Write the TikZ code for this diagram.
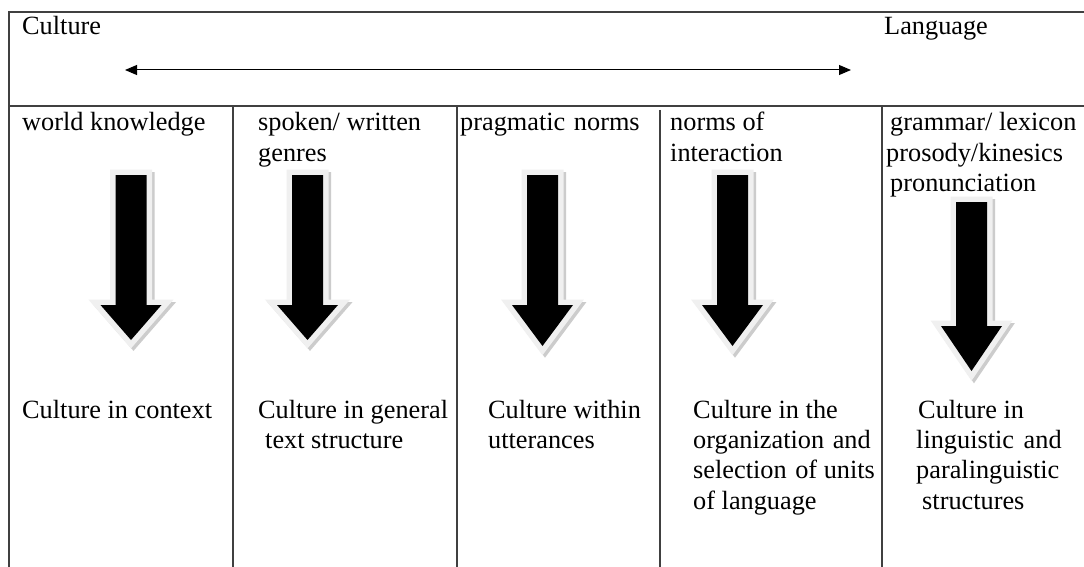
\documentclass[tikz,border=0pt]{standalone}
\usepackage{fontspec}
\setmainfont{Liberation Serif}
\usetikzlibrary{arrows.meta}
\newcommand\arrowpath[4]{(#1-15.5,#2) -- (#1+15.5,#2) -- (#1+15.5,#3) -- (#1+30.5,#3) -- (#1,#4) -- (#1-30.5,#3) -- (#1-15.5,#3) -- cycle}
\newcommand\bigdownarrow[4]{%
  \filldraw[draw=gray!40, fill=gray!40, line width=11pt, line join=miter, shift={(2.5,2.5)}] \arrowpath{#1}{#2}{#3}{#4};
  \filldraw[draw=gray!12, fill=gray!12, line width=11pt, line join=miter] \arrowpath{#1}{#2}{#3}{#4};
  \fill[black] \arrowpath{#1}{#2}{#3}{#4};
}
\begin{document}
\begin{tikzpicture}[x=1pt,y=-1pt,
  frame/.style={draw=black!75, line width=1.4pt},
  lbl/.style={anchor=base west, inner sep=0pt, font=\fontsize{26.3}{30}\selectfont},
  dbl/.style={{Triangle[length=12pt,width=10pt]}-{Triangle[length=12pt,width=10pt]}, line width=1pt, black}]
\useasboundingbox (0,0) rectangle (1084,567);
\fill[white] (0,0) rectangle (1084,567);
% frame
\draw[frame] (1084,12) -- (9,12) -- (9,567);
\draw[frame] (9,106) -- (1084,106);
\draw[frame] (233,106) -- (233,567);
\draw[frame] (457,106) -- (457,567);
\draw[frame] (660,110) -- (660,567);
\draw[frame] (882,106) -- (882,567);
% top labels and double arrow
\node[lbl] (cul) at (22,35) {Culture};
\node[lbl] (lang) at (884,35) {Language};
\coordinate (ca) at (125,70);
\coordinate (la) at (851,70);
\draw[dbl] (ca) -- (la);
% column headers
\node[lbl] (h1) at (22,131) {world knowledge};
\node[lbl] (h2a) at (258,131) {spoken/ written};
\node[lbl] (h2b) at (258,161) {genres};
\node[lbl] (h3) at (460,131) {pragmatic\hspace{2pt} norms};
\node[lbl] (h4a) at (670,131) {norms of};
\node[lbl] (h4b) at (670,161) {interaction};
\node[lbl] (h5a) at (890,131) {grammar/ lexicon};
\node[lbl] (h5b) at (886,161) {prosody/kinesics};
\node[lbl] (h5c) at (890,191) {pronunciation};
% block arrows
\bigdownarrow{131}{175}{305}{340}
\bigdownarrow{307.5}{175}{305}{340}
\bigdownarrow{542.5}{175}{305}{346}
\bigdownarrow{732.5}{175}{305}{346}
\bigdownarrow{971.5}{202}{326}{371}
% bottom texts
\node[lbl] (b1) at (22,418) {Culture in context};
\node[lbl] (b2a) at (258,418) {Culture in general};
\node[lbl] (b2b) at (265,448) {text structure};
\node[lbl] (b3a) at (488,418) {Culture within};
\node[lbl] (b3b) at (488,448) {utterances};
\node[lbl] (b4a) at (693,418) {Culture in the};
\node[lbl] (b4b) at (693,448) {organization\hspace{2pt} and};
\node[lbl] (b4c) at (693,478) {selection\hspace{2pt} of units};
\node[lbl] (b4d) at (693,509) {of language};
\node[lbl] (b5a) at (918,418) {Culture in};
\node[lbl] (b5b) at (916,448) {linguistic\hspace{3pt} and};
\node[lbl] (b5c) at (916,478) {paralinguistic};
\node[lbl] (b5d) at (922,509) {structures};
\end{tikzpicture}
\end{document}
